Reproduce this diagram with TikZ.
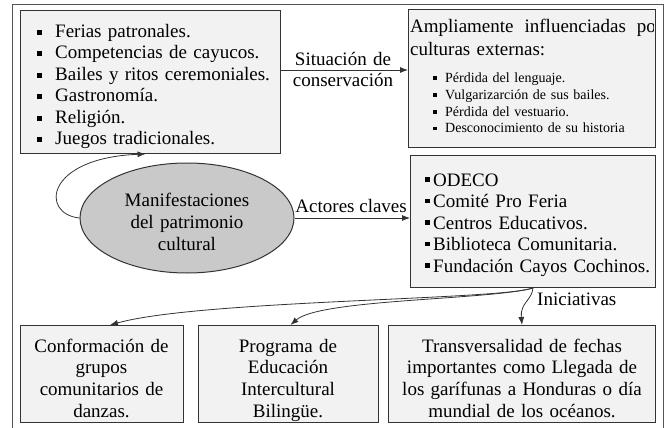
\documentclass[tikz,border=0pt]{standalone}
\usepackage{fontspec}
\setmainfont{Liberation Serif}
\usetikzlibrary{arrows.meta,shapes.geometric}

\definecolor{borde}{HTML}{333333}
\definecolor{fondo}{HTML}{F2F2F2}
\definecolor{ovalo}{HTML}{C9C9C9}
\definecolor{marco}{HTML}{555555}

% vinetas cuadradas
\newcommand{\vgrande}{\makebox[18pt][l]{\rule[2.5pt]{5pt}{5pt}}}
\newcommand{\vchica}{\makebox[12pt][l]{\rule[2.5pt]{3.5pt}{3.5pt}}}
\newcommand{\vjunta}{\makebox[8pt][l]{\rule[4.5pt]{4.5pt}{4.5pt}}}

\tikzset{
  caja/.style={draw=borde, fill=fondo, line width=1pt, inner sep=0pt, anchor=north west},
  texto/.style={inner sep=0pt, font=\fontsize{19}{21.5}\selectfont},
  flecha/.style={draw=borde, line width=0.8pt, -{Latex[length=8pt,width=6pt]}},
}

\begin{document}
\begin{tikzpicture}[x=1pt,y=1pt,yscale=-1,xscale=1]
    \useasboundingbox (0,0) rectangle (667,428);

    %Marco
    \draw [marco, line width=1pt] (12,428) -- (12,5) -- (663,5) -- (663,428);

    %Cajas
    \node [caja, minimum width=260pt, minimum height=143pt] (fiestas) at (20,10) {};
    \node [caja, minimum width=247pt, minimum height=138pt] (influencia) at (408,9) {};
    \node [caja, minimum width=245pt, minimum height=132pt] (actores) at (410,155) {};
    \node [caja, minimum width=163pt, minimum height=97pt] (conformacion) at (20,325) {};
    \node [caja, minimum width=180pt, minimum height=97pt] (programa) at (198,325) {};
    \node [caja, minimum width=267pt, minimum height=97pt] (fechas) at (388,325) {};
    %Elipse
    \node [draw=borde, fill=ovalo, line width=1pt, ellipse, minimum width=214pt, minimum height=110pt, inner sep=0pt] (patrimonio) at (187,218) {};

    % Textos
    \node [texto, anchor=base west, text width=235pt, align=left] (fiestastxt) at (37,37.5) {\vgrande Ferias patronales.\\\vgrande Competencias de cayucos.\\\vgrande Bailes y ritos ceremoniales.\\\vgrande Gastronomía.\\\vgrande Religión.\\\vgrande Juegos tradicionales.};
    \begin{scope}
      \clip (influencia.north west) rectangle ([xshift=-3pt]influencia.south east);
      \node [texto, font=\fontsize{19}{23}\selectfont, anchor=base west, text width=252pt, align=left] (influenciatxt) at (410,32.5) {\makebox[252pt][l]{Ampliamente\hfill influenciadas\hfill por}\\culturas externas:};
    \end{scope}
    \node [texto, font=\fontsize{14}{16.8}\selectfont, anchor=base west, text width=210pt, align=left] (perdidas) at (433,82.5) {\vchica Pérdida del lenguaje.\\\vchica Vulgarizarción de sus bailes.\\\vchica Pérdida del vestuario.\\\vchica Desconocimiento de su historia};
    \node [texto, anchor=base west, text width=230pt, align=left] (actorestxt) at (425,186) {\vjunta ODECO\\\vjunta Comité Pro Feria\\\vjunta Centros Educativos.\\\vjunta Biblioteca Comunitaria.\\\vjunta Fundación Cayos Cochinos.};
    \node [texto, font=\fontsize{19}{22}\selectfont, anchor=base, text width=200pt, align=center] (patrimoniotxt) at (187,206) {Manifestaciones\\del patrimonio\\cultural};
    \node [texto, font=\fontsize{19}{21.7}\selectfont, anchor=base, text width=163pt, align=center] (conformaciontxt) at (101.5,352) {Conformación de\\grupos\\comunitarios de\\danzas.};
    \node [texto, font=\fontsize{19}{21.7}\selectfont, anchor=base, text width=180pt, align=center] (programatxt) at (288,352) {Programa de\\Educación\\Intercultural\\Bilingüe.};
    \node [texto, font=\fontsize{19}{21.7}\selectfont, anchor=base, text width=267pt, align=center] (fechastxt) at (522,352) {Transversalidad de fechas\\importantes como Llegada de\\los garífunas a Honduras o día\\mundial de los océanos.};

    % Conectores
    \coordinate (nivel) at (0,70);
    \draw [flecha] (fiestas.east |- nivel) -- (influencia.west |- nivel);
    \node [texto, font=\fontsize{19}{21}\selectfont, anchor=base, text width=120pt, align=center] (situacion) at (343,66) {Situación de\\conservación};
    \draw [flecha] (patrimonio.east) -- (patrimonio.east -| actores.west);
    \node [texto, anchor=base east] (claves) at (407,212) {Actores claves};
    \draw [flecha] (patrimonio.west) .. controls (40,214) and (45,158) .. ([xshift=-5pt]fiestas.south);
    \draw [flecha] (actores.south) .. controls (500,300) and (200,300) .. ([xshift=8pt]conformacion.north);
    \draw [flecha] (actores.south) .. controls (490,300) and (320,299) .. ([xshift=2pt]programa.north);
    \draw [flecha] (actores.south) .. controls (532,300) and (520,303) .. (fechas.north);
    \node [texto, anchor=base west] (iniciativas) at (537,305) {Iniciativas};

\end{tikzpicture}
\end{document}
